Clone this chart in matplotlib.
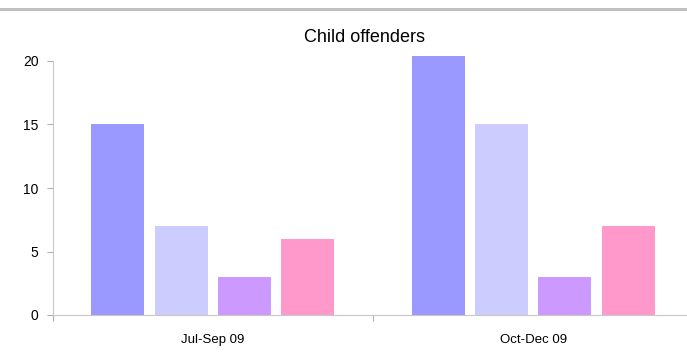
import matplotlib.pyplot as plt
import numpy as np
from matplotlib.patches import Rectangle

plt.rcParams['font.family'] = ['Liberation Sans', 'DejaVu Sans']

# quarters and offender counts per series
quarters = ['Jul-Sep 09', 'Oct-Dec 09']
series_a = [15, 20.4]
series_b = [7, 15]
series_c = [3, 3]
series_d = [6, 7]
colors = ['#9999ff', '#ccccff', '#cc99ff', '#ff99cc']

W, H = 687, 358
fig = plt.figure(figsize=(W / 100, H / 100), dpi=100)

# grey rule across the top of the figure
fig.add_artist(Rectangle((0, 1 - 11 / H), 1, 3 / H, transform=fig.transFigure,
                         facecolor='#c0c0c0', edgecolor='none'))

left, right = 52.5 / W, 693.5 / W
bottom, top = 1 - 315 / H, 1 - 61 / H
ax = fig.add_axes([left, bottom, right - left, top - bottom])

centers = np.arange(len(quarters)) + 0.5
width = 0.165
step = 0.1976
for i, (vals, c) in enumerate(zip([series_a, series_b, series_c, series_d], colors)):
    ax.bar(centers + (i - 1.5) * step, vals, width=width, color=c, clip_on=False)

ax.set_xlim(0, 2)
ax.set_ylim(0, 20)
ax.set_yticks([0, 5, 10, 15, 20])
ax.set_xticks([0, 1, 2])
ax.set_xticklabels([])
ax.set_xticks(centers, minor=True)
ax.set_xticklabels(quarters, minor=True)
ax.tick_params(axis='x', which='minor', length=0, pad=14, labelsize=9.5)
ax.tick_params(axis='x', which='major', length=4, color='#b0b0b0', direction='out')
ax.tick_params(axis='y', length=4, color='#b0b0b0', pad=6, labelsize=10)

for s in ['top', 'right']:
    ax.spines[s].set_visible(False)
for s in ['left', 'bottom']:
    ax.spines[s].set_color('#c8c8c8')

fig.text(364 / W, 1 - 37 / H, 'Child offenders', ha='center', va='center', fontsize=13)

fig.savefig('out.png', dpi=100)
